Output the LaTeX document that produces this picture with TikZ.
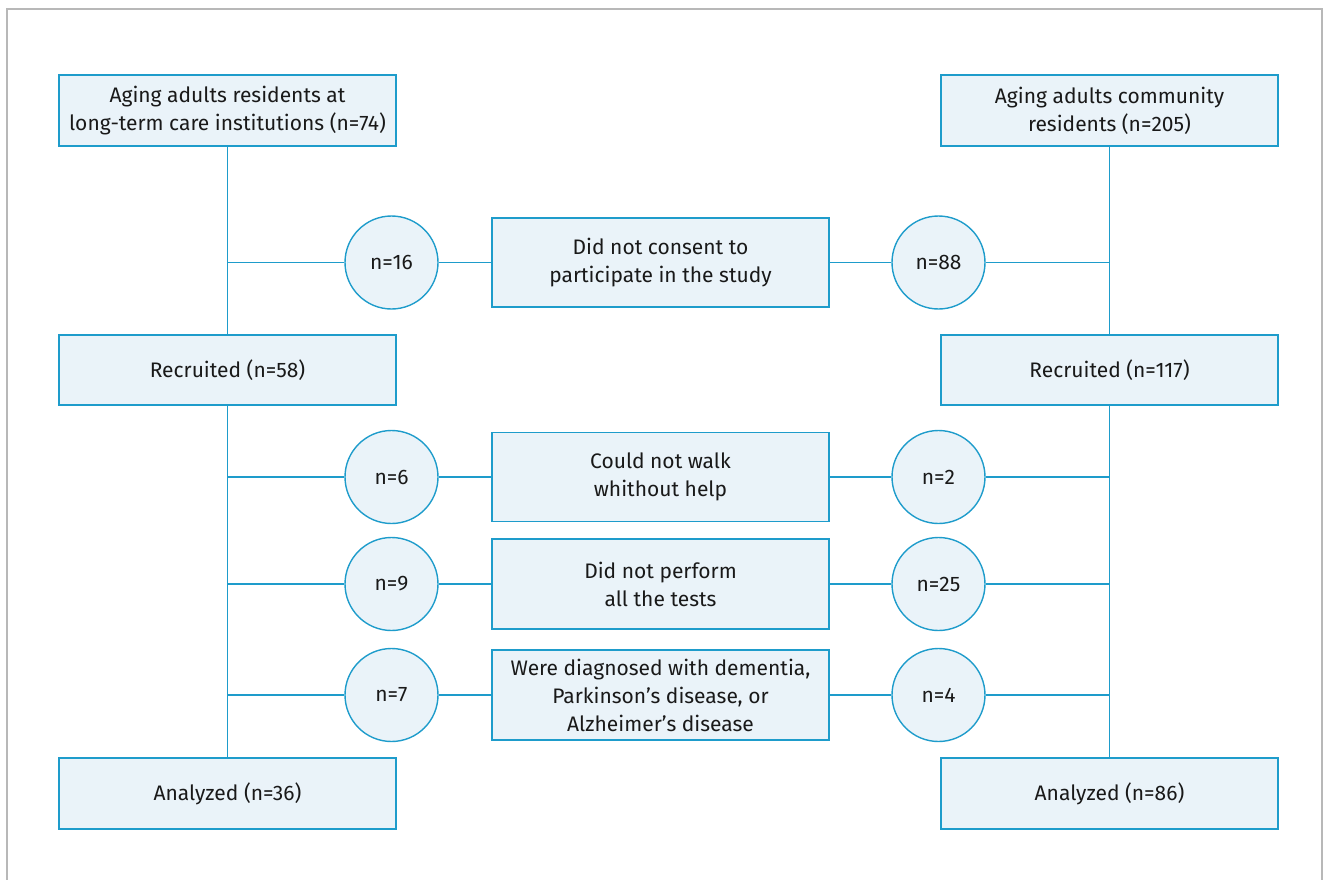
\documentclass[tikz,border=0pt]{standalone}
\usepackage{fontspec}
\setmainfont{Fira Sans}
\definecolor{edge}{HTML}{1E9CCB}
\definecolor{fillb}{HTML}{EAF3F9}
\definecolor{frame}{HTML}{B8B8B8}
\begin{document}
\begin{tikzpicture}[x=1pt,y=-1pt,
  every node/.style={font=\fontsize{21}{28}\selectfont, text=black!90},
  bx/.style={draw=edge, fill=fillb, line width=1.6pt, minimum width=337pt, inner sep=0pt, align=center},
  cnt/.style={draw=edge, fill=fillb, line width=1.4pt, circle, minimum size=93pt, inner sep=0pt},
  ln/.style={draw=edge, line width=1.5pt}]
\useasboundingbox (0,0) rectangle (1328,880);
\draw[frame, line width=1.5pt] (7,890) -- (7,9) -- (1322,9) -- (1322,890);
% side boxes
\node[bx, minimum height=71pt] (tl) at (227.5,110.5) {Aging adults residents at\\long-term care institutions (n=74)};
\node[bx, minimum height=71pt] (tr) at (1109.5,110.5) {Aging adults community\\residents (n=205)};
\node[bx, minimum height=70pt] (rl) at (227.5,370) {Recruited (n=58)};
\node[bx, minimum height=70pt] (rr) at (1109.5,370) {Recruited (n=117)};
\node[bx, minimum height=71pt] (al) at (227.5,793.5) {Analyzed (n=36)};
\node[bx, minimum height=71pt] (ar) at (1109.5,793.5) {Analyzed (n=86)};
% middle boxes
\node[bx, minimum height=89pt] (m1) at (660.5,262.5) {Did not consent to\\participate in the study};
\node[bx, minimum height=89pt] (m2) at (660.5,477) {Could not walk\\whithout help};
\node[bx, minimum height=90pt] (m3) at (660.5,584) {Did not perform\\all the tests};
\node[bx, minimum height=90pt] (m4) at (660.5,695) {Were diagnosed with dementia,\\Parkinson’s disease, or\\Alzheimer’s disease};
% circles
\node[cnt] (l1) at (391.5,262.5) {n=16};
\node[cnt] (r1) at (938.5,262.5) {n=88};
\node[cnt] (l2) at (391.5,477) {n=6};
\node[cnt] (r2) at (938.5,477) {n=2};
\node[cnt] (l3) at (391.5,584) {n=9};
\node[cnt] (r3) at (938.5,584) {n=25};
\node[cnt] (l4) at (391.5,695) {n=7};
\node[cnt] (r4) at (938.5,695) {n=4};
% vertical lines
\draw[ln] (tl.south) -- (rl.north);
\draw[ln] (rl.south) -- (al.north);
\draw[ln] (tr.south) -- (rr.north);
\draw[ln] (rr.south) -- (ar.north);
% horizontal lines
\foreach \i in {1,2,3,4}{
  \draw[ln] (tl.south |- l\i) -- (l\i.west);
  \draw[ln] (l\i.east) -- (m\i.west);
  \draw[ln] (m\i.east) -- (r\i.west);
  \draw[ln] (r\i.east) -- (tr.south |- r\i);
}
\end{tikzpicture}
\end{document}
